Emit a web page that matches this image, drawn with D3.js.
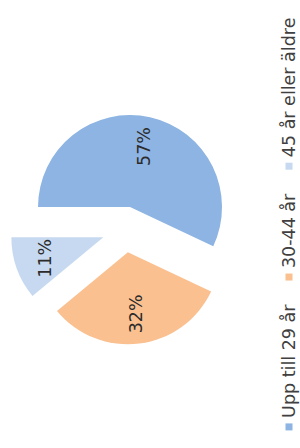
<!DOCTYPE html>
<html>
<head>
<meta charset="utf-8">
<script src="https://cdn.jsdelivr.net/npm/d3@7/dist/d3.min.js"></script>
<style>
  html, body { margin: 0; padding: 0; background: #ffffff; }
  svg { display: block; }
  text { font-family: "DejaVu Sans", sans-serif; }
</style>
</head>
<body>
<script>
const categories = ["Upp till 29 år", "30-44 år", "45 år eller äldre"];
const values = [57, 32, 11];
const valueLabels = ["57%", "32%", "11%"];
const colors = ["#8DB4E2", "#FAC090", "#C6D9F1"];

const W = 300, H = 448;
// the chart is drawn in a 448x300 frame, then rotated -90 degrees
const FW = 448, FH = 300;

const svg = d3.select("body").append("svg")
  .attr("width", W).attr("height", H);

const frame = svg.append("g")
  .attr("transform", `translate(0,${H}) rotate(-90)`);

const radius = 92, explode = 23, labelR = 62;
const cx = 218.5, cy = 125;

const data = categories.map((c, i) => ({ cat: c, value: values[i], label: valueLabels[i], color: colors[i] }));

const pie = d3.pie().sort(null).value(d => d.value).startAngle(0).endAngle(2 * Math.PI);
const arcs = pie(data);
const arc = d3.arc().innerRadius(0).outerRadius(radius);
const labelArc = d3.arc().innerRadius(labelR).outerRadius(labelR);

const pieG = frame.append("g").attr("transform", `translate(${cx},${cy})`);

const slice = pieG.selectAll("g.slice").data(arcs).join("g")
  .attr("class", "slice")
  .attr("transform", d => {
    const m = (d.startAngle + d.endAngle) / 2;
    return `translate(${Math.sin(m) * explode},${-Math.cos(m) * explode})`;
  });

slice.append("path")
  .attr("d", arc)
  .attr("fill", d => d.data.color);

slice.append("text")
  .attr("transform", d => `translate(${labelArc.centroid(d)})`)
  .attr("text-anchor", "middle")
  .attr("dy", "0.35em")
  .attr("font-size", 17.5)
  .attr("fill", "#2b2b2b")
  .text(d => d.data.label);

// legend (bottom of the unrotated frame), centred
const legend = frame.append("g");
const items = legend.selectAll("g.item").data(data).join("g").attr("class", "item");
const sq = 7, gapText = 5.5, gapItem = 24;
items.append("rect")
  .attr("width", sq).attr("height", sq)
  .attr("y", -sq / 2)
  .attr("fill", d => d.color);
items.append("text")
  .attr("x", sq + gapText)
  .attr("dy", "0.35em")
  .attr("font-size", 17.5)
  .attr("fill", "#404040")
  .text(d => d.cat);

let widths = [];
items.each(function() { widths.push(this.querySelector("text").getComputedTextLength() + sq + gapText); });
const total = d3.sum(widths) + gapItem * (widths.length - 1);
let x0 = (FW - total) / 2;
const legendY = 289;
items.attr("transform", (d, i) => {
  const x = x0 + d3.sum(widths.slice(0, i)) + gapItem * i;
  return `translate(${x},${legendY})`;
});
</script>
</body>
</html>
